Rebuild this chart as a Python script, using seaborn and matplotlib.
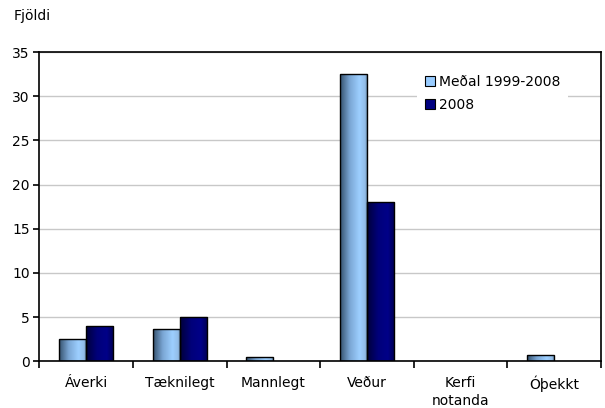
import numpy as np
import pandas as pd
import seaborn as sns
import matplotlib
matplotlib.use("Agg")
import matplotlib.pyplot as plt
from matplotlib.colors import LinearSegmentedColormap
from matplotlib.patches import Patch

categories = ["Áverki", "Tæknilegt", "Mannlegt", "Veður", "Kerfi\nnotanda", "Óþekkt"]
series = ["Meðal 1999-2008", "2008"]
avg_values = [2.5, 3.6, 0.5, 32.5, 0.0, 0.7]
y2008_values = [4.0, 5.0, 0.0, 18.0, 0.0, 0.0]
yticks = [0, 5, 10, 15, 20, 25, 30, 35]

df = pd.DataFrame({
    "cat": categories * 2,
    "series": [series[0]] * 6 + [series[1]] * 6,
    "value": avg_values + y2008_values,
})

sns.set_style("white")
plt.rcParams["font.family"] = ["DejaVu Sans"]
plt.rcParams["text.color"] = "black"
plt.rcParams["xtick.labelcolor"] = "black"
plt.rcParams["ytick.labelcolor"] = "black"

fig = plt.figure(figsize=(6.05, 4.08), dpi=100)
ax = fig.add_axes([0.065, 0.1145, 0.9285, 0.758])

sns.barplot(data=df, x="cat", y="value", hue="series", palette=["#99ccff", "#000080"],
            width=0.58, edgecolor="black", linewidth=1, ax=ax, legend=False)

# gradient fill on bars, the way the old excel chart shaded them
light_cmap = LinearSegmentedColormap.from_list("light", [(0, "#34506c"), (0.35, "#7aa6d4"), (0.7, "#9dcfff"),
                                                        (0.9, "#92bde8"), (1, "#5a7590")])
dark_cmap = LinearSegmentedColormap.from_list("dark", [(0, "#00003a"), (0.4, "#00007a"), (0.75, "#000088"),
                                                      (1, "#000050")])
grad = np.linspace(0, 1, 256).reshape(1, -1)
for cont, cmap in zip(ax.containers, [light_cmap, dark_cmap]):
    for bar in cont:
        h = bar.get_height()
        if h <= 0:
            bar.set_visible(False)
            continue
        x0 = bar.get_x()
        w = bar.get_width()
        im = ax.imshow(grad, cmap=cmap, extent=[x0, x0 + w, 0, h], aspect="auto", zorder=2.5,
                       interpolation="bilinear")
        im.set_clip_path(bar)
        bar.set_facecolor("none")
        bar.set_zorder(3)

ax.set_xlim(-0.5, 5.5)
ax.set_ylim(0, 35)
ax.set_yticks(yticks)
ax.set_xticks(range(len(categories)))
ax.set_xticklabels(categories, linespacing=1.35)
ax.set_xticks(np.arange(-0.5, 6, 1), minor=True)
ax.tick_params(axis="x", which="major", length=0, pad=10.5, labelsize=10)
ax.tick_params(axis="x", which="minor", length=5, width=1.2, direction="out", color="black", bottom=True)
ax.tick_params(axis="y", length=4, width=1.2, direction="out", left=True, pad=3, labelsize=10, color="black")
ax.set_xlabel("")
ax.set_ylabel("")

ax.set_axisbelow(True)
ax.yaxis.grid(True, color="#c8c8c8", linewidth=1)
for s in ax.spines.values():
    s.set_visible(True)
    s.set_color("black")
    s.set_linewidth(1.2)

handles = [Patch(facecolor="#99ccff", edgecolor="black", linewidth=0.8),
           Patch(facecolor="#000080", edgecolor="black", linewidth=0.8)]
leg = ax.legend(handles, series, loc="upper left", bbox_to_anchor=(0.66, 0.975), fontsize=10,
                handlelength=0.7, handleheight=0.7, handletextpad=0.25, labelspacing=0.65,
                frameon=True, framealpha=1, facecolor="white", edgecolor="none", borderpad=0.6)
leg.get_frame().set_linewidth(0)

fig.text(14 / 605, 1 - 16 / 408, "Fjöldi", fontsize=10, va="center", ha="left")

fig.savefig("out.png", dpi=100)
